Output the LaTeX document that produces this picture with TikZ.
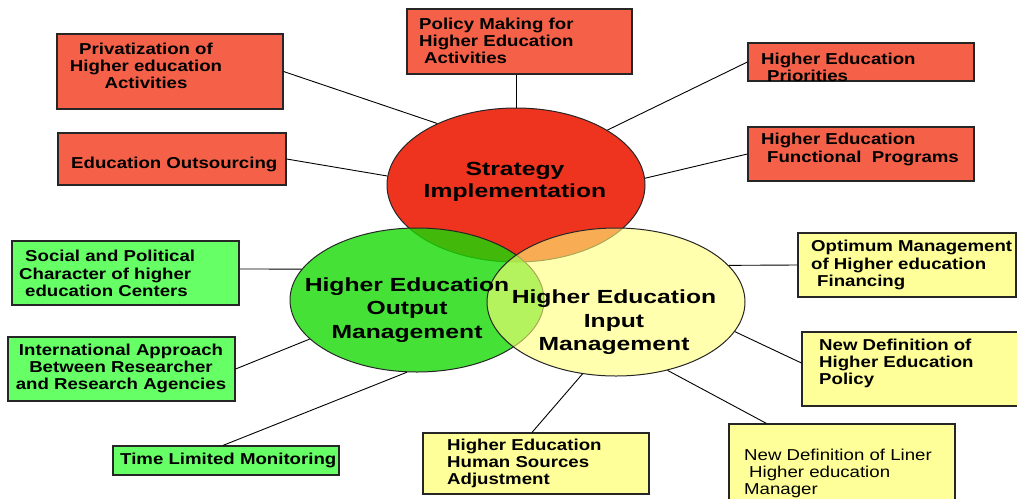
\documentclass[tikz,border=0pt]{standalone}
\usepackage{fontspec}
\setmainfont{Liberation Sans}
\newfontfamily\boxfont[FakeStretch=1.18]{Liberation Sans}
\newfontfamily\ellfont[FakeStretch=1.3]{Liberation Sans}
\usetikzlibrary{shapes.geometric,shadows}
\definecolor{boxred}{RGB}{245,97,72}
\definecolor{boxgreen}{RGB}{102,255,102}
\definecolor{boxyellow}{RGB}{255,255,153}
\definecolor{ellred}{RGB}{238,52,30}
\definecolor{ellgreen}{RGB}{24,218,5}
\definecolor{ellyellow}{RGB}{255,255,120}

\begin{document}
\begin{tikzpicture}[x=1pt,y=-1pt,
  box/.style={rectangle,draw=black!85,line width=1.2pt,inner sep=0pt,
    drop shadow={shadow xshift=1.2pt,shadow yshift=-1.2pt,fill=black,opacity=0.25}},
  redbox/.style={box,fill=boxred},
  greenbox/.style={box,fill=boxgreen},
  yellowbox/.style={box,fill=boxyellow},
  btext/.style={anchor=west,inner sep=0pt,align=left,
    font=\boxfont\bfseries\fontsize{15.8}{17.3}\selectfont},
  ell/.style={ellipse,draw=black!85,line width=1pt,inner sep=0pt},
  etext/.style={inner sep=0pt,align=center,
    font=\ellfont\bfseries\fontsize{19}{#1}\selectfont},
  link/.style={line width=0.9pt}]
\clip (0,0) rectangle (1017,498);
\fill[white] (0,0) rectangle (1017,498);

% the three circles
\node[ell,fill=ellred,minimum width=258pt,minimum height=154pt] (strat) at (516,185) {};
\node[ell,fill=ellgreen,fill opacity=0.8,minimum width=254pt,minimum height=144pt] (outm) at (417,300) {};
\node[ell,fill=ellyellow,fill opacity=0.6,minimum width=258pt,minimum height=148pt] (inm) at (616,302) {};

\node[etext=22] (stratt) at (515,182) {Strategy\\Implementation};
\node[etext=23.5] (outmt) at (407,310) {Higher Education\\Output\\Management};
\node[etext=23.5] (inmt) at (614,322.5) {Higher Education\\Input\\Management};

% red boxes
\node[redbox,minimum width=226pt,minimum height=75pt] (priv) at (170,71.5) {};
\node[btext,anchor=center,align=center] (privt) at (146,66) {Privatization of\\Higher education\\Activities};
\node[redbox,minimum width=228pt,minimum height=52pt] (out) at (172,159) {};
\node[btext] (outt) at (71,164.5) {Education Outsourcing};
\node[redbox,minimum width=225pt,minimum height=65pt] (pol) at (519.5,41.5) {};
\node[btext] (polt) at (419,41) {Policy Making for\\Higher Education\\\hspace*{5pt}Activities};
\node[redbox,minimum width=226pt,minimum height=38pt] (prio) at (861,62) {};
\node[btext] (priot) at (761,67) {Higher Education\\\hspace*{6pt}Priorities};
\node[redbox,minimum width=226pt,minimum height=54pt] (func) at (861,154) {};
\node[btext] (funct) at (761,149.5) {Higher Education\\\hspace*{6pt}Functional~~Programs};

% green boxes
\node[greenbox,minimum width=227pt,minimum height=64pt] (soc) at (125.5,273) {};
\node[btext] (soct) at (19,273.5) {\hspace*{6pt}Social and Political\\Character of higher\\\hspace*{6pt}education Centers};
\node[greenbox,minimum width=227pt,minimum height=64pt] (intl) at (121.5,369) {};
\node[btext,anchor=center,align=center] (intlt) at (121,368.5) {International Approach\\Between Researcher\\and Research Agencies};
\node[greenbox,minimum width=226pt,minimum height=29pt] (time) at (226,460.5) {};
\node[btext] (timet) at (120,460.5) {Time Limited Monitoring};

% yellow boxes
\node[yellowbox,minimum width=218pt,minimum height=64pt] (opt) at (907,265) {};
\node[btext] (optt) at (811,265) {Optimum Management\\of Higher education\\\hspace*{6pt}Financing};
\node[yellowbox,minimum width=218pt,minimum height=74pt] (pdef) at (911,369) {};
\node[btext] (pdeft) at (819,363.5) {New Definition of\\Higher Education\\Policy};
\node[yellowbox,minimum width=226pt,minimum height=86pt] (lin) at (842,467) {};
\node[btext,font=\boxfont\fontsize{15.8}{17}\selectfont] (lint) at (744,473.5) {New Definition of Liner\\\hspace*{5pt}Higher education\\Manager};
\node[yellowbox,minimum width=226pt,minimum height=61pt] (hum) at (536,463.5) {};
\node[btext] (humt) at (447,463.5) {Higher Education\\Human Sources\\Adjustment};

% links
\draw[link] (priv.east) -- (strat.142.7);
\draw[link] (out.east) -- (strat.176.5);
\draw[link] (strat.north) -- (strat.north |- pol.south);
\draw[link] (prio.west) -- (strat.31.1);
\draw[link] (func.west) -- (strat.3.1);
\draw[link] ([yshift=4pt]soc.east) -- (outm.165.8);
\draw[link] (intl.east) -- (outm.200.5);
\draw[link] ([xshift=-3pt]time.north) -- (outm.262);
\draw[link] (opt.west) -- (inm.18.4);
\draw[link] ([yshift=6pt]pdef.west) -- (inm.346.5);
\draw[link] ([xshift=38pt]lin.north west) -- (inm.307.4);
\draw[link] ([xshift=-4pt]hum.north) -- (inm.245);
\end{tikzpicture}
\end{document}
